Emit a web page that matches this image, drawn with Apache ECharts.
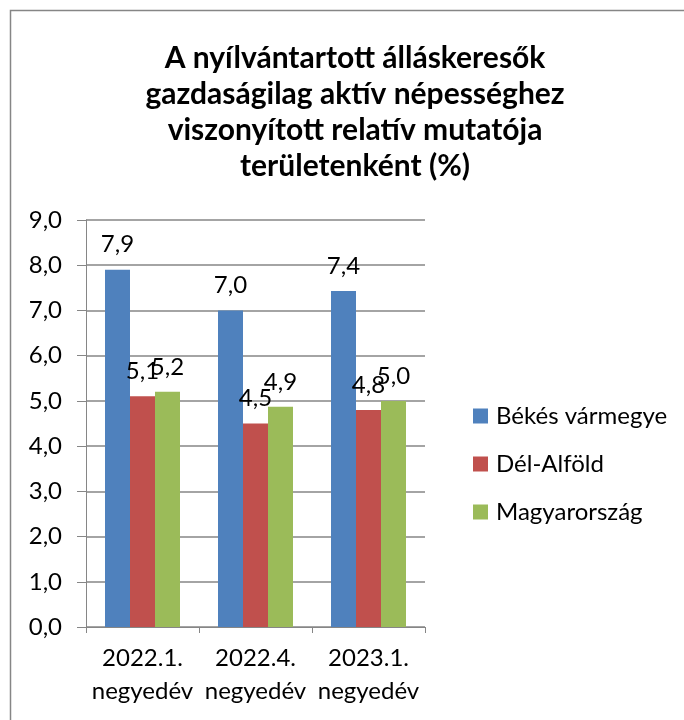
<!DOCTYPE html>
<html>
<head>
<meta charset="utf-8">
<script src="https://cdn.jsdelivr.net/npm/echarts@6/dist/echarts.min.js"></script>
<style>
  html, body { margin: 0; padding: 0; background: #fff; }
  #chart { width: 684px; height: 720px; }
</style>
</head>
<body>
<div id="chart"></div>
<script>
// adatok
const categories = ['2022.1.\nnegyedév', '2022.4.\nnegyedév', '2023.1.\nnegyedév'];
const bekes = [7.9, 7.0, 7.43];
const delAlfold = [5.1, 4.5, 4.8];
const magyarorszag = [5.2, 4.87, 5.0];
const seriesNames = ['Békés vármegye', 'Dél-Alföld', 'Magyarország'];
const colors = ['#4F81BD', '#C0504D', '#9BBB59'];

const FONT = 'Lato';
const FS = 24;
const chart = echarts.init(document.getElementById('chart'), null, { renderer: 'canvas' });

function fmt(v) {
  return v.toFixed(1).replace('.', ',');
}

function barSeries(name, data, color) {
  return {
    name: name,
    type: 'bar',
    data: data,
    barWidth: 25,
    barGap: '0%',
    itemStyle: { color: color },
    label: {
      show: true,
      position: 'top',
      distance: 13,
      color: '#000',
      fontFamily: FONT,
      fontSize: FS,
      formatter: function (p) { return fmt(p.value); }
    }
  };
}

var option = {
  animation: false,
  backgroundColor: '#fff',
  title: {
    text: 'A nyílvántartott álláskeresők\ngazdaságilag aktív népességhez\nviszonyított relatív mutatója\nterületenként (%)',
    left: 350,
    top: 35,
    textAlign: 'center',
    textStyle: {
      fontFamily: FONT,
      fontWeight: 'bold',
      fontSize: 30,
      lineHeight: 36,
      color: '#000'
    }
  },
  legend: {
    orient: 'vertical',
    left: 468,
    top: 399,
    itemWidth: 15,
    itemHeight: 15,
    itemGap: 24,
    icon: 'rect',
    data: seriesNames,
    textStyle: {
      fontFamily: FONT,
      fontSize: FS,
      color: '#000',
      padding: [0, 0, 0, 3]
    }
  },
  grid: {
    left: 86,
    right: 259,
    top: 220,
    bottom: 93,
    containLabel: false
  },
  xAxis: {
    type: 'category',
    data: categories,
    axisLine: { lineStyle: { color: '#868686', width: 1 } },
    axisTick: { show: true, length: 6, alignWithLabel: false, lineStyle: { color: '#868686' } },
    axisLabel: {
      interval: 0,
      color: '#000',
      fontFamily: FONT,
      fontSize: FS,
      lineHeight: 33,
      margin: 15
    }
  },
  yAxis: {
    type: 'value',
    min: 0,
    max: 9,
    interval: 1,
    axisLine: { show: true, lineStyle: { color: '#868686', width: 1 } },
    axisTick: { show: true, length: 9, lineStyle: { color: '#868686' } },
    splitLine: { lineStyle: { color: '#868686', width: 1.5 } },
    axisLabel: {
      color: '#000',
      fontFamily: FONT,
      fontSize: FS,
      margin: 24,
      formatter: function (v) { return fmt(v); }
    }
  },
  graphic: [{
    type: 'rect',
    shape: { x: 10.5, y: 10.5, width: 700, height: 720 },
    style: { fill: 'none', stroke: '#868686', lineWidth: 1.5 },
    silent: true
  }],
  series: [
    barSeries(seriesNames[0], bekes, colors[0]),
    barSeries(seriesNames[1], delAlfold, colors[1]),
    barSeries(seriesNames[2], magyarorszag, colors[2])
  ]
};

chart.setOption(option);
</script>
</body>
</html>
